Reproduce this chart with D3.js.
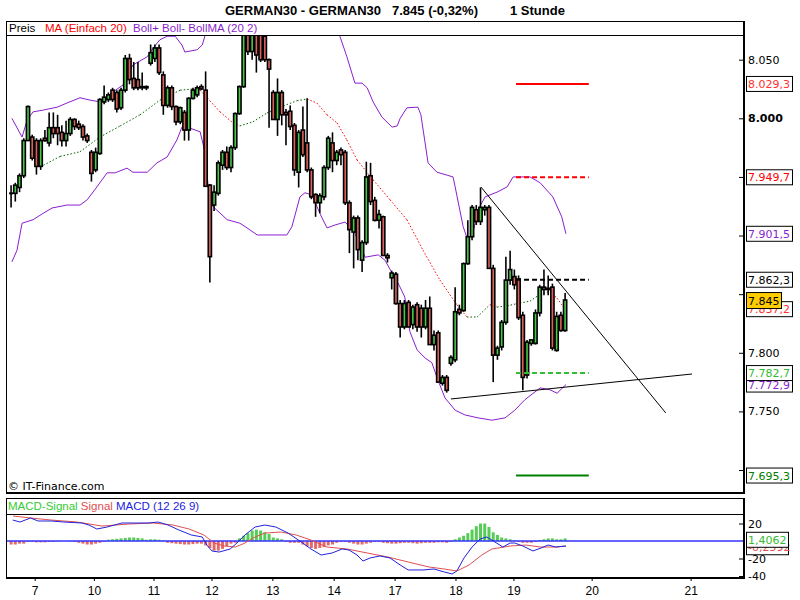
<!DOCTYPE html>
<html>
<head>
<meta charset="utf-8">
<script src="https://cdn.jsdelivr.net/npm/d3@7/dist/d3.min.js"></script>
<style>
body { margin: 0; background: #fff; }
svg { display: block; }
text { font-family: "Liberation Sans", Arial, sans-serif; }
</style>
</head>
<body>
<svg id="chart" width="800" height="600"></svg>
<script>
// GERMAN30, 1 Stunde candles (slot = candle index)
const opens  = [7936,7936,7941,7951,7981,7984,7981,7959,7983,7979, 7992,7992,7988,7981,7987,7999,7995,7993,7985,7971,
                7956,7970,8014,8016,8024,8022,8009,8024,8051,8034, 8033,8027,8027,8047,8051,8060,8037,8011,8026,8010,
                7997,8005,7990,8017,8020,8027,8024,7943,7926,7936, 7960,7971,7958,7975,8004,8027,8080,8057,8082,8078,
                8070,8050,8022,7999,8022,8005,8006,7994,7954,7990, 7979,7956,7935,7928,7933,7958,7979,7964,7973,7971,
                7928,7903,7915,7879,7894,7951,7930,7913,7916,7883, 7864,7867,7842,7822,7843,7824,7841,7838,7822,7838,
                7807,7817,7774,7779,7791,7794,7837,7836,7876,7899, 7922,7912,7922,7924,7872,7798,7805,7826,7862,7865,
                7863,7832,7781,7808,7808,7834,7856,7855,7856,7802, 7832,7819];
const highs  = [7943,7945,7953,7983,8011,7986,7983,7983,7990,8005, 8005,8003,7994,7998,8001,8000,7998,7995,7987,7973,
                7975,8017,8028,8022,8026,8024,8026,8054,8055,8048, 8048,8039,8028,8063,8063,8063,8040,8028,8028,8011,
                8010,8007,8018,8026,8028,8029,8040,7944,7943,7964, 7973,7976,7977,8005,8028,8085,8088,8090,8086,8082,
                8074,8051,8024,8034,8024,8008,8011,7996,7990,8010, 8017,7958,7936,7936,7960,7985,7988,7973,7975,7973,
                7930,7917,7917,7896,7963,7962,7933,7922,7917,7885, 7870,7869,7845,7845,7845,7841,7843,7841,7845,7848,
                7819,7819,7781,7781,7798,7856,7841,7877,7913,7926, 7926,7941,7926,7926,7875,7806,7828,7882,7887,7871,
                7866,7835,7811,7811,7837,7858,7871,7866,7859,7835, 7835,7851];
const lows   = [7924,7929,7937,7949,7981,7964,7952,7956,7980,7976, 7983,7977,7976,7976,7985,7990,7990,7981,7979,7946,
                7954,7969,8012,8014,8014,8005,8007,8022,8029,8024, 8024,8024,8024,8045,8048,8037,8003,8009,8007,7994,
                7995,7981,7981,8016,8018,8024,7942,7860,7921,7934, 7956,7956,7954,7973,8003,8026,8054,8050,8039,8048,
                8048,7992,7999,7985,7994,7977,7990,7951,7941,7967, 7954,7931,7916,7919,7930,7956,7954,7960,7960,7926,
                7885,7872,7879,7869,7892,7926,7912,7906,7883,7877, 7854,7841,7813,7820,7822,7820,7818,7813,7820,7807,
                7802,7775,7772,7766,7789,7792,7832,7835,7875,7896, 7909,7909,7917,7872,7775,7794,7802,7824,7858,7854,
                7828,7768,7778,7806,7807,7831,7849,7849,7802,7801, 7818,7818];
const closes = [7936,7943,7951,7981,8010,7966,7959,7981,7981,7992, 7987,7987,7981,7987,7999,7993,7992,7984,7981,7953,
                7971,8016,8018,8020,8016,8008,8024,8051,8033,8026, 8026,8026,8026,8056,8060,8039,8011,8026,8010,7997,
                8009,7990,8017,8024,8026,8025,7942,7882,7937,7962, 7971,7958,7975,8004,8027,8080,8057,8082,8054,8050,
                8050,8042,7999,8022,8003,8003,7993,7956,7988,7969, 7956,7933,7928,7934,7958,7983,7964,7971,7969,7928,
                7905,7915,7888,7894,7950,7929,7913,7918,7883,7881, 7868,7842,7822,7842,7822,7839,7822,7822,7838,7807,
                7815,7775,7779,7768,7796,7835,7834,7876,7899,7924, 7912,7924,7924,7872,7798,7804,7826,7862,7871,7858,
                7830,7779,7809,7811,7834,7856,7854,7854,7804,7831, 7819,7845];

// MA (Einfach 20), read at sample slots
const maSlot  = [6.9, 11.6, 16.3, 21.0, 25.8, 30.5, 35.2, 40.0, 43.0, 44.7, 47.0, 49.4, 52.5, 54.1, 57.2, 60.5, 63.6, 67.6, 70.0, 72.3,
                 74.7, 77.1, 79.4, 81.8, 85.6, 89.6, 93.6, 97.4, 101.4, 105.4, 107.8, 110.2, 113.2, 114.9, 117.3, 120.3, 122.7, 125.1, 127.4, 129.1, 131.0];
const maValue = [7958.5, 7967.5, 7971.5, 7984, 7993.5, 8003, 8015.5, 8024, 8025, 8024, 8015, 8005.5, 7996, 7993.5, 7997, 8004.5, 8009.5, 8015, 8016.5, 8013,
                 8003, 7996, 7981.5, 7964.5, 7947.5, 7930.5, 7913.5, 7887.5, 7862, 7841, 7830.5, 7830.5, 7841, 7839, 7840, 7842.5, 7844, 7850, 7852.5, 7846.5, 7837.2];

// Bollinger (20 2)
const bollUpSlot  = [0.2, 2.6, 3.8, 5.2, 7.6, 10.9, 13.2, 16.3, 18.7, 21.0, 24.1, 26.5, 27.4, 28.8, 32.2, 33.6, 35.2, 36.9, 38.8, 40.4,
                     41.1, 44.0, 45.2, 45.9, 48, 51, 55, 60, 65, 70, 74, 77.8, 79.4, 81.3, 83.0, 84.2, 85.6, 87.7, 90.1, 91.3,
                     92.0, 93.6, 96.2, 96.9, 98.6, 100.7, 103.1, 104.5, 105.0, 106.9, 108.0, 109.2, 110.4, 112.1, 114.9, 117.3, 118.7, 122.7, 125.1, 128.1,
                     130.2, 131.2];
const bollUpValue = [8000, 7984, 7998.5, 8005.5, 8007, 8009.5, 8013, 8017.5, 8015.5, 8014, 8022.5, 8028.5, 8035, 8045.5, 8052.5, 8060, 8067, 8070, 8070, 8062.5,
                     8056.5, 8058.5, 8062.5, 8071, 8085, 8100, 8115, 8125, 8125, 8115, 8095, 8069.5, 8052.5, 8030, 8030, 8026, 8014, 8001, 7992.5, 7993.5,
                     8000, 8009, 8009.5, 8003, 7962, 7954, 7951.5, 7950, 7941.5, 7907.5, 7896, 7902, 7922, 7933, 7937, 7941.5, 7950, 7950, 7945, 7933,
                     7916, 7901.5];
const bollLowSlot  = [0.2, 1.4, 2.6, 5.2, 7.6, 9.7, 13.2, 16.3, 18.0, 20.3, 22.7, 24.6, 27.4, 28.8, 32.2, 34.5, 36.9, 39.2, 40.4, 41.6,
                      44.7, 45.9, 46.6, 47.8, 51.1, 54.1, 55.8, 58.2, 61.2, 65.2, 66.4, 68.3, 69.5, 71.2, 73.0, 74.7, 76.6, 79.0, 81.3, 83.7,
                      86.8, 88.4, 90.1, 91.5, 93.1, 94.3, 96.0, 97.9, 99.5, 100.9, 102.6, 105.0, 107.3, 110.4, 113.7, 116.8, 119.1, 121.5, 125.1, 127.4,
                      129.1, 131.2];
const bollLowValue = [7877.5, 7887.5, 7910.5, 7913.5, 7919, 7923.5, 7926, 7926, 7930.5, 7941.5, 7953.5, 7953.5, 7957.5, 7954, 7954, 7962, 7967, 7981.5, 7992.5, 7992.5,
                      7988.5, 7970.5, 7941.5, 7924.5, 7913.5, 7910.5, 7906.5, 7900.5, 7900.5, 7900.5, 7907.5, 7933, 7936.5, 7934.5, 7919, 7906.5, 7909, 7911.5, 7902, 7881.5,
                      7883.5, 7879, 7868, 7859.5, 7847.5, 7818, 7802.5, 7795.5, 7791.5, 7777, 7761.5, 7751, 7747, 7744.5, 7742.5, 7744.5, 7751, 7760, 7770, 7768.5,
                      7765.5, 7772.9];

// horizontal levels and trend lines
const levelValues = [8029.3, 7949.7, 7862.3, 7782.7, 7695.3];
const levelColors = ["#ff0000", "#ff0000", "#000000", "#33bb33", "#008000"];
const levelDashed = [false, true, true, true, false];
const levelSlots  = [119.4, 136.6];
const trendDownSlot = [111.1, 154.8], trendDownValue = [7941.4, 7748.7];
const trendUpSlot   = [104.0, 161.0], trendUpValue   = [7760.6, 7781.9];

// right side boxes
const boxValues = [8029.3, 7949.7, 7901.5, 7862.3, 7772.9, 7782.7, 7837.2, 7695.3];
const boxColors = ["#ff3030", "#ff0000", "#8a1fd0", "#000000", "#8a1fd0", "#33bb33", "#ff3030", "#008000"];
const lastPrice = 7845;

// x axis (days)
const dayLabels = ["7", "10", "11", "12", "13", "14", "17", "18", "19", "20", "21"];
const daySlots  = [5.7, 19.7, 33.8, 47.5, 61.9, 76.4, 90.8, 105.2, 118.9, 137.4, 160.8];
const priceTicks = [8050, 8000, 7950, 7900, 7850, 7800, 7750, 7700];
const priceLabelled = [8050, 8000, 7800, 7750];

// MACD (12 26 9)
const macdSlot  = [0.4, 2.1, 4.6, 6.4, 9.5, 12.5, 16.8, 18.4, 20.3, 22.7, 26.2, 30.0, 32.4, 34.8, 37.1, 39.7, 42.6, 45.2, 46.3, 47.5,
                   49.2, 51.8, 53.4, 55.3, 57.7, 60.0, 62.6, 65.5, 68.6, 70.9, 73.3, 75.9, 78.3, 79.9, 81.8, 83.2, 84.9, 87.2, 89.6, 92.0,
                   93.9, 97.4, 100.0, 102.4, 104.3, 105.4, 107.1, 109.0, 110.9, 112.5, 114.4, 116.3, 118.0, 119.1, 121.0, 123.4, 125.3, 127.0, 128.8, 131.2];
const macdValue = [24, 21.7, 26.3, 22.9, 22.9, 21.7, 20.6, 18.3, 13.7, 16, 20.6, 20.6, 20.6, 21.7, 18.3, 12.6, 6.9, 4.6, -4.6, -11.4,
                   -12.6, -9.1, -2.3, 6.9, 16, 18.3, 16, 9.1, -1.1, -9.1, -16, -13.7, -9.1, -10.3, -16, -22.9, -19.4, -17.1, -19.4, -27.4,
                   -33.1, -33.1, -32, -35.4, -37.7, -34.3, -19.4, -6.9, 2.3, 4.6, -1.1, -6.9, -2.3, -2.3, -5.7, -11.4, -8, -4.6, -6.9, -5.7];
const sigSlot  = [0.5, 4.7, 9.5, 15.6, 21.5, 27.7, 33.6, 38.3, 42.1, 45.6, 48.0, 50.4, 53.0, 55.3, 57.7, 60.0, 63.8, 67.4, 70.9, 74.7,
                  79.4, 84.2, 89.1, 93.9, 98.8, 102.4, 105.4, 108.3, 111.3, 113.7, 118.0, 121.7, 125.3, 128.8, 131.2];
const sigValue = [28.6, 26.3, 24, 21.7, 17.1, 19.4, 20.6, 18.3, 13.7, 6.9, -2.3, -5.7, -6.9, -2.3, 4.6, 9.1, 10.3, 6.9, 1.1, -6.9,
                  -9.1, -13.7, -18.3, -24, -29.7, -32, -34.3, -27.4, -16, -9.1, -5.7, -4.6, -6.9, -6.9, -5.7];
const histValue = [-4,-4,-3,-3,-1,-1,-1.5,-1.5,-1.5,-1, -1,-0.5,0,0,-0.5,-1,-2,-3,-4,-4,
                   -3,-2,-1,1.5,2,2.5,3,3.5,4,4, 3.5,3,1.5,2,2,1.5,1,-2,-2.5,-3,
                   -3.5,-4,-4,-3.5,-3,-3,-5,-8,-11,-11, -9,-6,-3,-2,3,6,9,12,13,12,
                   10,8,4,3,2,-1,-2,-2,-2,-4, -6,-8,-9,-8,-7,-5,-4,-2,-1,-1,
                   -2,-3,-4,-4,-3,-2,-1,-1,-2,-2.5, -3,-3,-2.5,-2,-2,-2.5,-3,-2.5,-2,-2,
                   -2,-1.5,-1.5,-2,-1,2,4,6,9,13, 17,20,20,16,10,7,4,3,2,1,
                   -1,-2,-2,-2,-1,1,2,3,3,2, 2,3];
const macdBoxValues = [-0.2592, 1.4062];
const macdBoxColors = ["#e05050", "#33bb33"];
const macdTicks = [20, -20, -40];

const green = "#47c847", red = "#d9625b", purple = "#8a1fd0";
const de = d3.formatLocale({decimal: ",", thousands: ".", grouping: [3], currency: ["", ""], minus: "-"});
const fmt0 = de.format(",.0f"), fmt1 = de.format(",.1f"), fmt4 = de.format(".4f");

const svg = d3.select("#chart");
const x = d3.scaleLinear().domain([-1.2, 173.3]).range([6, 744]);
const y = d3.scaleLinear().domain([7680.4, 8070.2]).range([493, 36]);
const ym = d3.scaleLinear().domain([-42.3, 30.9]).range([578, 514]);

// title
const title = svg.append("text").attr("y", 15).attr("font-weight", "bold").attr("font-size", 13);
title.append("tspan").attr("x", 225).text("GERMAN30 - GERMAN30");
title.append("tspan").attr("x", 392).text(fmt0(lastPrice) + " (" + de.format(".2f")(-0.32) + "%)");
title.append("tspan").attr("x", 510).text("1 Stunde");

// frames
svg.append("rect").attr("x", 6.5).attr("y", 21.5).attr("width", 737.5).attr("height", 471)
    .attr("fill", "none").attr("stroke", "#000");
svg.append("line").attr("x1", 6).attr("x2", 744).attr("y1", 35.5).attr("y2", 35.5).attr("stroke", "#000");
svg.append("rect").attr("x", 6.5).attr("y", 498.5).attr("width", 737.5).attr("height", 79)
    .attr("fill", "none").attr("stroke", "#000");
svg.append("line").attr("x1", 6).attr("x2", 744).attr("y1", 514.5).attr("y2", 514.5).attr("stroke", "#000");
svg.append("line").attr("x1", 744).attr("x2", 744).attr("y1", 21).attr("y2", 494).attr("stroke", "#000").attr("stroke-width", 2);
svg.append("line").attr("x1", 6).attr("x2", 745).attr("y1", 493).attr("y2", 493).attr("stroke", "#000").attr("stroke-width", 2);
svg.append("line").attr("x1", 744).attr("x2", 744).attr("y1", 498).attr("y2", 579).attr("stroke", "#000").attr("stroke-width", 2);
svg.append("line").attr("x1", 6).attr("x2", 745).attr("y1", 578).attr("y2", 578).attr("stroke", "#000").attr("stroke-width", 2);

// legends
const leg = svg.append("text").attr("y", 32).attr("font-size", 11.5);
leg.append("tspan").attr("x", 9).attr("fill", "#000").text("Preis");
leg.append("tspan").attr("x", 45).attr("fill", "#ff0000").text("MA (Einfach 20)");
leg.append("tspan").attr("x", 133).attr("fill", purple).text("Boll+ Boll- BollMA (20 2)");
const leg2 = svg.append("text").attr("x", 8).attr("y", 510).attr("font-size", 11.5);
leg2.append("tspan").attr("fill", "#33cc33").text("MACD-Signal ");
leg2.append("tspan").attr("fill", "#e05050").text("Signal ");
leg2.append("tspan").attr("fill", "#2222dd").text("MACD (12 26 9)");

svg.append("defs").append("clipPath").attr("id", "clipMain")
    .append("rect").attr("x", 7).attr("y", 36).attr("width", 736).attr("height", 456);
svg.select("defs").append("clipPath").attr("id", "clipMacd")
    .append("rect").attr("x", 7).attr("y", 515).attr("width", 736).attr("height", 62);

const main = svg.append("g").attr("clip-path", "url(#clipMain)");

// bollinger bands
const bandLine = d3.line().x(d => x(d[0])).y(d => y(d[1]));
main.append("path").datum(d3.zip(bollUpSlot, bollUpValue)).attr("d", bandLine)
    .attr("fill", "none").attr("stroke", purple).attr("stroke-width", 1);
main.append("path").datum(d3.zip(bollLowSlot, bollLowValue)).attr("d", bandLine)
    .attr("fill", "none").attr("stroke", purple).attr("stroke-width", 1);

// MA, coloured by direction
const maPts = d3.zip(maSlot, maValue);
const maSegs = maPts.slice(1).map((p, i) => ({a: maPts[i], b: p}));
main.selectAll("line.ma").data(maSegs).join("line").attr("class", "ma")
    .attr("x1", d => x(d.a[0])).attr("y1", d => y(d.a[1]))
    .attr("x2", d => x(d.b[0])).attr("y2", d => y(d.b[1]))
    .attr("stroke", d => d.b[1] >= d.a[1] ? "#006400" : "#ff0000")
    .attr("stroke-width", 1).attr("stroke-dasharray", "1.5,2");

// candles
const candles = opens.map((o, i) => ({i: i, o: o, h: highs[i], l: lows[i], c: closes[i]}));
main.selectAll("line.wick").data(candles).join("line").attr("class", "wick")
    .attr("x1", d => x(d.i)).attr("x2", d => x(d.i))
    .attr("y1", d => y(d.h)).attr("y2", d => y(d.l))
    .attr("stroke", "#000").attr("stroke-width", 1.6);
main.selectAll("rect.body").data(candles.filter(d => d.o != d.c)).join("rect").attr("class", "body")
    .attr("x", d => x(d.i) - 1.6).attr("width", 3.2)
    .attr("y", d => y(Math.max(d.o, d.c)))
    .attr("height", d => Math.max(1, Math.abs(y(d.o) - y(d.c))))
    .attr("fill", d => d.c > d.o ? green : red)
    .attr("stroke", "#000").attr("stroke-width", 1.6);
main.selectAll("line.doji").data(candles.filter(d => d.o == d.c)).join("line").attr("class", "doji")
    .attr("x1", d => x(d.i) - 2).attr("x2", d => x(d.i) + 2)
    .attr("y1", d => y(d.o)).attr("y2", d => y(d.o))
    .attr("stroke", "#000").attr("stroke-width", 2);

// levels
main.selectAll("line.level").data(levelValues).join("line").attr("class", "level")
    .attr("x1", x(levelSlots[0])).attr("x2", x(levelSlots[1]))
    .attr("y1", d => y(d)).attr("y2", d => y(d))
    .attr("stroke", (d, i) => levelColors[i]).attr("stroke-width", 2)
    .attr("stroke-dasharray", (d, i) => levelDashed[i] ? "5,3" : null);

// triangle
[[trendDownSlot, trendDownValue], [trendUpSlot, trendUpValue]].forEach(t => {
    main.append("line")
        .attr("x1", x(t[0][0])).attr("y1", y(t[1][0]))
        .attr("x2", x(t[0][1])).attr("y2", y(t[1][1]))
        .attr("stroke", "#000").attr("stroke-width", 1);
});

svg.append("text").attr("x", 8).attr("y", 490)
    .style("font-family", "'DejaVu Sans', sans-serif").attr("font-size", 11).text("\u00a9 IT-Finance.com");

// price axis
const yAxis = d3.axisRight(y).tickValues(priceTicks).tickSizeInner(-5).tickSizeOuter(0).tickPadding(4)
    .tickFormat(d => priceLabelled.includes(d) ? fmt0(d) : "");
const ya = svg.append("g").attr("transform", "translate(744,0)").call(yAxis);
ya.select(".domain").remove();
ya.selectAll("text").attr("font-size", 11).style("font-family", "'DejaVu Sans', sans-serif")
    .attr("font-weight", d => d == 8000 ? "bold" : null);

// value boxes
const boxes = svg.append("g");
boxValues.forEach((v, i) => {
    const b = boxes.append("g").attr("transform", "translate(746," + y(v) + ")");
    b.append("rect").attr("x", 0.5).attr("y", -7.5).attr("width", 46).attr("height", 15)
        .attr("fill", "#fff").attr("stroke", "#000");
    b.append("text").attr("x", 2).attr("y", 4).attr("font-size", 11)
        .style("font-family", "'DejaVu Sans', sans-serif").attr("fill", boxColors[i]).text(fmt1(v));
    if (v == 7837.2) {
        const lp = boxes.append("g").attr("transform", "translate(746," + y(lastPrice) + ")");
        lp.append("rect").attr("x", 0.5).attr("y", -7.5).attr("width", 35).attr("height", 16)
            .attr("fill", "#ffcc00").attr("stroke", "#000");
        lp.append("text").attr("x", 2).attr("y", 4.5).attr("font-size", 11)
            .style("font-family", "'DejaVu Sans', sans-serif").attr("fill", "#000").text(fmt0(lastPrice));
    }
});

// MACD panel
const mg = svg.append("g").attr("clip-path", "url(#clipMacd)");
mg.selectAll("rect.hist").data(histValue).join("rect").attr("class", "hist")
    .attr("x", (d, i) => x(i) - 1.5).attr("width", 3)
    .attr("y", d => ym(Math.max(0, d))).attr("height", d => Math.abs(ym(d) - ym(0)))
    .attr("fill", d => d >= 0 ? "#55cc55" : "#e46a6a");
mg.append("line").attr("x1", 7).attr("x2", 744).attr("y1", ym(0)).attr("y2", ym(0))
    .attr("stroke", "#3333ff").attr("stroke-width", 1.5);
const mLine = d3.line().x(d => x(d[0])).y(d => ym(d[1]));
mg.append("path").datum(d3.zip(sigSlot, sigValue)).attr("d", mLine)
    .attr("fill", "none").attr("stroke", "#e05050").attr("stroke-width", 1);
mg.append("path").datum(d3.zip(macdSlot, macdValue)).attr("d", mLine)
    .attr("fill", "none").attr("stroke", "#2222dd").attr("stroke-width", 1);

const mAxis = d3.axisRight(ym).tickValues(macdTicks).tickSizeInner(-5).tickSizeOuter(0).tickPadding(4)
    .tickFormat(de.format("d"));
const ma = svg.append("g").attr("transform", "translate(744,0)").call(mAxis);
ma.select(".domain").remove();
ma.selectAll("text").attr("font-size", 11).style("font-family", "'DejaVu Sans', sans-serif");

macdBoxValues.forEach((v, i) => {
    const off = i == 0 ? 6 : 0;
    const b = svg.append("g").attr("transform", "translate(746," + (ym(v) + off) + ")");
    b.append("rect").attr("x", 0.5).attr("y", -7.5).attr("width", 42).attr("height", 15)
        .attr("fill", "#fff").attr("stroke", "#000");
    b.append("text").attr("x", 2).attr("y", 4).attr("font-size", 11)
        .style("font-family", "'DejaVu Sans', sans-serif").attr("fill", macdBoxColors[i]).text(fmt4(v));
});

// day axis
const xa = svg.append("g");
xa.selectAll("line").data(daySlots).join("line")
    .attr("x1", d => x(d)).attr("x2", d => x(d)).attr("y1", 578).attr("y2", 581)
    .attr("stroke", "#000");
xa.selectAll("text").data(dayLabels).join("text")
    .attr("x", (d, i) => x(daySlots[i])).attr("y", 595).attr("text-anchor", "middle")
    .attr("font-size", 12).text(d => d);
</script>
</body>
</html>
